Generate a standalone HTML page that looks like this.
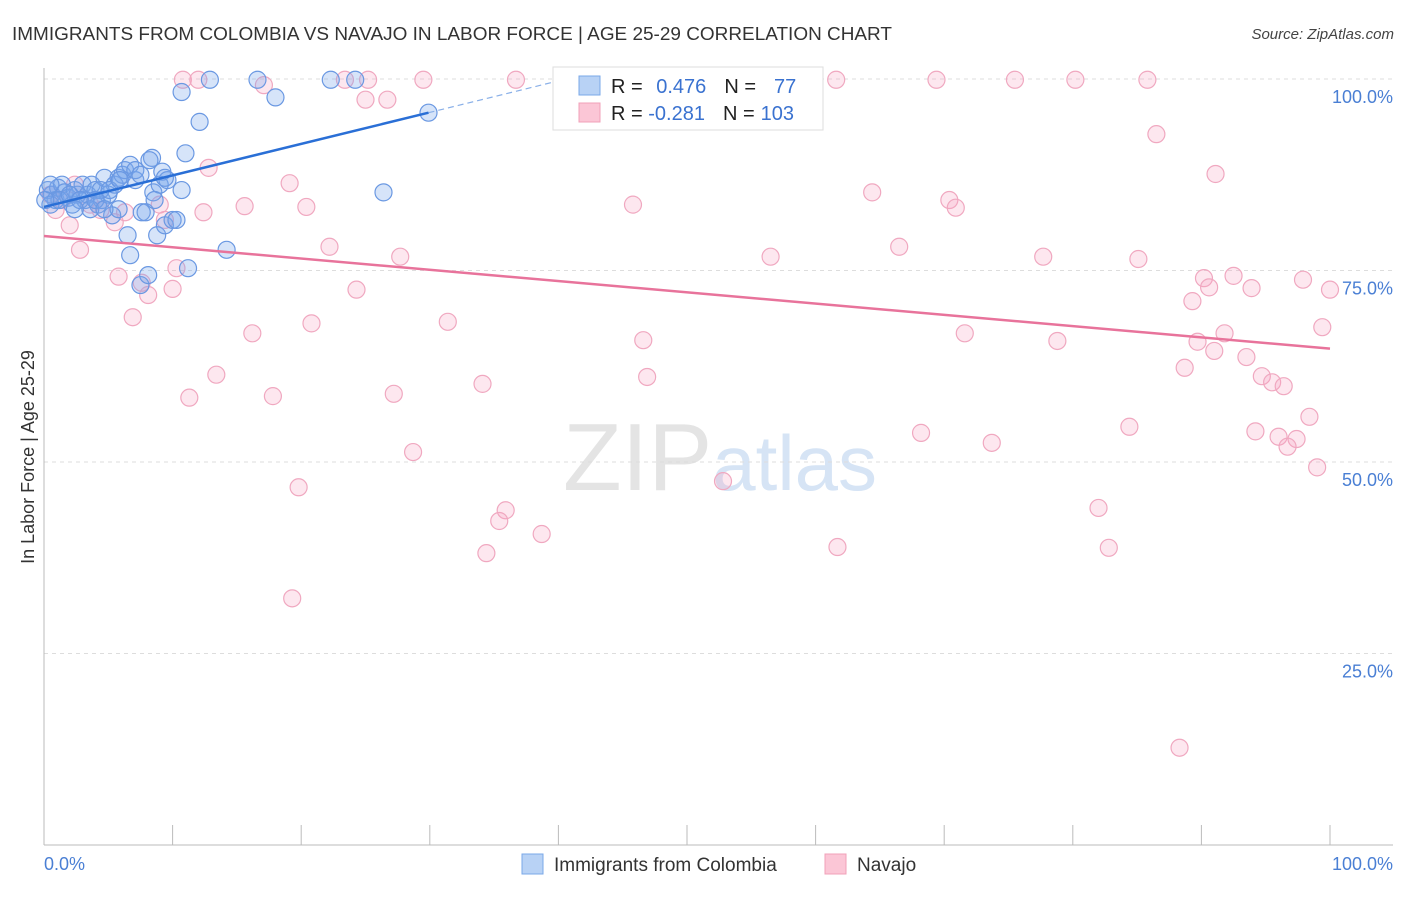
<!DOCTYPE html>
<html><head><meta charset="utf-8"><style>
body{margin:0;background:#fff;font-family:"Liberation Sans",sans-serif}
svg text{font-family:"Liberation Sans",sans-serif}
</style></head><body>
<svg id="chart" width="1406" height="892" viewBox="0 0 1406 892">
<text x="12" y="40" font-size="18" fill="#333" textLength="880" lengthAdjust="spacingAndGlyphs">IMMIGRANTS FROM COLOMBIA VS NAVAJO IN LABOR FORCE | AGE 25-29 CORRELATION CHART</text>
<text x="1394" y="39" font-size="15" fill="#444" text-anchor="end" font-style="italic">Source: ZipAtlas.com</text>
<text x="720" y="490" font-size="96" text-anchor="middle" fill="#e4e4e4" font-family="Liberation Serif"><tspan>ZIP</tspan><tspan fill="#d6e4f5" font-family="Liberation Sans" font-size="78">atlas</tspan></text>
<g id="grid"></g><g id="axes"></g><g id="pts"></g><g id="lines"></g>
<text transform="translate(34,457) rotate(-90)" font-size="18" fill="#333" text-anchor="middle">In Labor Force | Age 25-29</text>
<g>
<rect x="553" y="67" width="270" height="63" fill="#fff" stroke="#ddd"/>
<rect x="579" y="76" width="21" height="19" fill="#b8d2f5" stroke="#7aa8e8"/>
<rect x="579" y="103" width="21" height="19" fill="#fbc6d6" stroke="#f0a0b8"/>
<text x="611" y="93" font-size="20" fill="#222">R = <tspan fill="#3a72d0" dx="8">0.476</tspan><tspan dx="18" fill="#222">N =</tspan><tspan dx="18" fill="#3a72d0">77</tspan></text>
<text x="611" y="120" font-size="20" fill="#222">R = <tspan fill="#3a72d0">-0.281</tspan><tspan dx="18" fill="#222">N =</tspan><tspan dx="6" fill="#3a72d0">103</tspan></text>
</g>
<g>
<rect x="522" y="854" width="21" height="20" fill="#b8d2f5" stroke="#7aa8e8"/>
<text x="554" y="871" font-size="19" fill="#333">Immigrants from Colombia</text>
<rect x="825" y="854" width="21" height="20" fill="#fbc6d6" stroke="#f0a0b8"/>
<text x="857" y="871" font-size="19" fill="#333">Navajo</text>
</g>
</svg>
<script>
const blueX=[0.3,0.6,0.9,1.1,1.4,1.6,1.9,2.2,2.4,2.6,3.0,3.2,3.4,3.7,4.0,4.2,4.5,4.7,5.0,5.3,5.5,5.8,6.1,6.3,6.5,6.7,6.7,7.1,7.5,7.6,7.9,8.1,8.4,8.5,8.8,9.0,9.2,9.4,9.6,10.0,10.3,10.7,11.0,11.2,10.7,12.1,12.9,14.2,16.6,18.0,22.3,24.2,26.4,29.9,0.5,1.2,2.0,2.8,3.6,4.4,5.1,5.9,7.1,8.2,9.4,5.8,4.0,2.4,4.7,7.5,0.1,0.5,8.6];
const blueY=[85.5,84.9,84.2,85.8,86.2,85.2,84.5,83.6,85.5,84.9,86.2,84.2,84.9,86.2,85.5,83.6,84.2,87.1,84.9,82.2,86.2,87.1,87.5,88.1,79.6,88.8,77.0,86.8,73.1,82.6,82.6,74.4,89.7,85.2,79.6,86.2,87.9,80.9,86.8,81.6,81.6,85.5,90.3,75.3,98.3,94.4,99.9,77.7,99.9,97.6,99.9,99.9,85.2,95.6,83.6,84.2,84.9,84.2,83.0,85.5,85.5,86.8,88.1,89.4,87.1,83.0,84.2,83.0,83.0,87.5,84.2,86.2,84.2];
const pinkX=[10.8,12.0,17.1,23.4,25.2,29.5,36.7,40.5,58.2,61.6,69.4,75.5,80.2,85.8,25.0,26.7,86.5,12.8,19.1,20.4,9.0,12.4,15.6,45.8,64.4,70.4,70.9,91.1,22.2,27.7,66.5,56.5,77.7,85.1,2.8,5.8,7.6,8.1,10.0,10.3,24.3,90.2,92.5,90.6,93.9,97.9,100,89.3,6.9,16.2,20.8,31.4,46.6,71.6,78.8,89.7,91.0,91.8,99.4,93.5,88.7,13.4,11.3,17.8,27.2,34.1,46.9,94.7,95.5,96.4,68.2,73.7,84.4,94.2,96.0,97.4,96.7,98.4,28.7,99.0,52.8,19.8,35.9,35.4,82.0,34.4,38.7,61.7,82.8,19.3,88.3,2.0,0.9,1.4,3.6,4.4,5.5,6.3,9.4,2.4,0.5];
const pinkY=[99.9,99.9,99.2,99.9,99.9,99.9,99.9,99.9,99.9,99.9,99.9,99.9,99.9,99.9,97.3,97.3,92.8,88.4,86.4,83.3,83.6,82.6,83.4,83.6,85.2,84.2,83.2,87.6,78.1,76.8,78.1,76.8,76.8,76.5,77.7,74.2,73.4,71.8,72.6,75.3,72.5,74.0,74.3,72.8,72.7,73.8,72.5,71.0,68.9,66.8,68.1,68.3,65.9,66.8,65.8,65.7,64.5,66.8,67.6,63.7,62.3,61.4,58.4,58.6,58.9,60.2,61.1,61.2,60.4,59.9,53.8,52.5,54.6,54.0,53.3,53.0,52.0,55.9,51.3,49.3,47.5,46.7,43.7,42.3,44.0,38.1,40.6,38.9,38.8,32.2,12.7,80.9,82.9,84.2,83.6,82.9,81.3,82.6,81.6,86.2,84.9];
const blueTrend=[83.3,95.6]; // y at x=0 and x=29.9
const pinkTrend=[79.5,64.8]; // y at x=0 and x=100
const yTicks=[25,50,75,100], yTickLabels=["25.0%","50.0%","75.0%","100.0%"];
const xTicks=[0,10,20,30,40,50,60,70,80,90,100];
const NS="http://www.w3.org/2000/svg";
const sx=v=>44+v*12.86, sy=v=>845-v*7.66;
function mk(tag,attrs,parent){const e=document.createElementNS(NS,tag);for(const k in attrs)e.setAttribute(k,attrs[k]);document.getElementById(parent).appendChild(e);return e;}
yTicks.forEach((t,i)=>{
 const l=mk('line',{x1:44,x2:1393,y1:sy(t),y2:sy(t),stroke:'#ddd','stroke-dasharray':'4,4'},'grid');
 
 
 const tx=mk('text',{x:1393,y:sy(t)+24,'font-size':18,fill:'#4a7fd4','text-anchor':'end'},'grid');
 tx.textContent=yTickLabels[i];
 
 
});
let a=mk('line',{x1:44,x2:44,y1:68,y2:845,stroke:'#bbb'},'axes');


a=mk('line',{x1:44,x2:1393,y1:845,y2:845,stroke:'#bbb'},'axes');


xTicks.forEach(t=>{const l=mk('line',{x1:sx(t),x2:sx(t),y1:825,y2:845,stroke:'#bbb'},'axes');
 
 });
let t0=mk('text',{x:44,y:870,'font-size':18,fill:'#4a7fd4'},'axes');t0.textContent='0.0%';


let t1=mk('text',{x:1393,y:870,'font-size':18,fill:'#4a7fd4','text-anchor':'end'},'axes');t1.textContent='100.0%';


pinkX.forEach((x,i)=>{const c=mk('circle',{cx:sx(x),cy:sy(pinkY[i]),r:8.5,fill:'rgba(246,160,190,0.25)',stroke:'#f0a8c0','stroke-width':1.2},'pts');
 
 });
blueX.forEach((x,i)=>{const c=mk('circle',{cx:sx(x),cy:sy(blueY[i]),r:8.5,fill:'rgba(120,165,235,0.3)',stroke:'#6a98e2','stroke-width':1.2},'pts');
 
 });
const bs=(blueTrend[1]-blueTrend[0])/29.9;
let ln=mk('line',{x1:sx(0),y1:sy(blueTrend[0]),x2:sx(29.9),y2:sy(blueTrend[1]),stroke:'#2a6fd6','stroke-width':2.5},'lines');


ln=mk('line',{x1:sx(29.9),y1:sy(blueTrend[1]),x2:sx(40),y2:sy(blueTrend[0]+bs*40),stroke:'#8ab0e8','stroke-width':1.2,'stroke-dasharray':'6,4'},'lines');


ln=mk('line',{x1:sx(0),y1:sy(pinkTrend[0]),x2:sx(100),y2:sy(pinkTrend[1]),stroke:'#e8739b','stroke-width':2.5},'lines');


</script>
</body></html>
